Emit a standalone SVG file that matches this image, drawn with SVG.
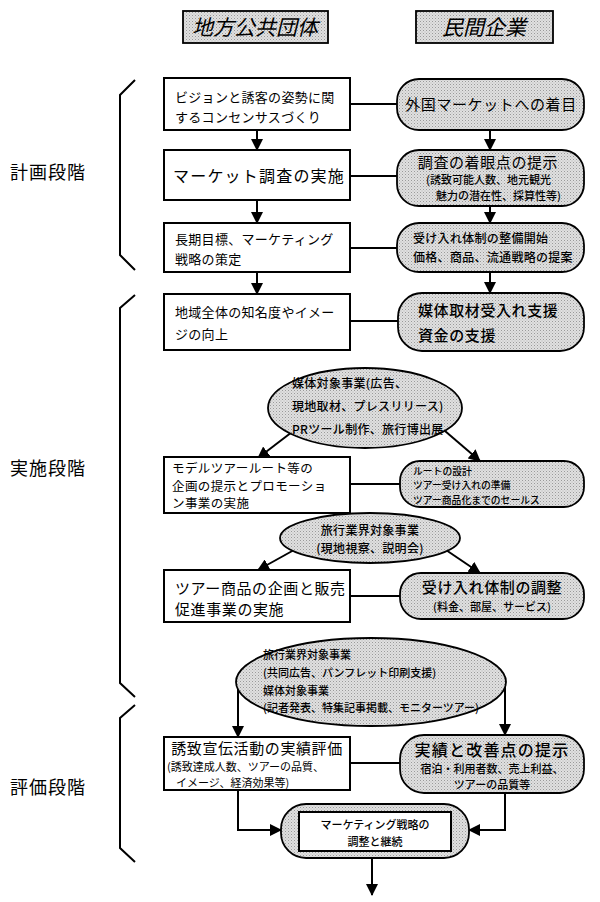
<svg xmlns="http://www.w3.org/2000/svg" width="600" height="902" viewBox="0 0 600 902">
<defs>
<pattern id="dots" width="3" height="3" patternUnits="userSpaceOnUse">
<rect width="3" height="3" fill="#e0e0e0"/>
<rect x="0" y="0" width="1" height="1" fill="#9a9a9a"/>
<rect x="1.5" y="1.5" width="1" height="1" fill="#b4b4b4"/>
</pattern>
<marker id="ah" markerUnits="userSpaceOnUse" markerWidth="12" markerHeight="12" refX="11" refY="6" orient="auto">
<path d="M0,0 L12,6 L0,12 z" fill="#000"/>
</marker>
</defs>
<style>
text{font-family:"Noto Sans CJK JP","Noto Sans CJK SC",sans-serif;fill:#000}
.box{fill:#fff;stroke:#000;stroke-width:2}
.pill{fill:url(#dots);stroke:#000;stroke-width:1.8}
.hdr{fill:url(#dots);stroke:#000;stroke-width:1.8}
.ht{font-size:21px;font-style:italic;text-anchor:middle}
.br{fill:none;stroke:#000;stroke-width:2}
.lab{font-size:18px;letter-spacing:1px}
.c{text-anchor:middle}
.t13{font-size:13px;letter-spacing:0.3px}
.t125{font-size:12.5px;letter-spacing:0.4px}
.t15{font-size:15px;letter-spacing:0.6px}
.t16{font-size:16px;letter-spacing:1.2px}
.t12{font-size:12px;letter-spacing:0.3px}
.t11{font-size:11px}
.t10{font-size:9.8px}
.b{font-weight:500}
.cn path{fill:none;stroke:#000;stroke-width:2}
</style>

<g id="header-public">
<rect class="hdr" x="183" y="11" width="145" height="32"/>
<text class="ht" x="255" y="35">地方公共団体</text>
</g>
<g id="header-private">
<rect class="hdr" x="416" y="11" width="137" height="32"/>
<text class="ht" x="484" y="35">民間企業</text>
</g>

<g id="phase-plan">
<path class="br" d="M135,80 L120,95 V255 L135,270"/>
<text class="lab" x="10" y="179">計画段階</text>
</g>
<g id="phase-impl">
<path class="br" d="M135,295 L120,308 V683 L135,697"/>
<text class="lab" x="10" y="475">実施段階</text>
</g>
<g id="phase-eval">
<path class="br" d="M135,705 L120,718 V848 L135,862"/>
<text class="lab" x="10" y="794">評価段階</text>
</g>

<g class="cn" id="connectors">
<path d="M350,104 H397"/>
<path d="M350,176 H397"/>
<path d="M350,248 H397"/>
<path d="M350,321 H398"/>
<path d="M350,484 H400"/>
<path d="M350,596 H400"/>
<path d="M350,763 H400"/>
<path d="M257,130 V150" marker-end="url(#ah)"/>
<path d="M257,200 V223" marker-end="url(#ah)"/>
<path d="M257,272 V294" marker-end="url(#ah)"/>
<path d="M490,130 V150" marker-end="url(#ah)"/>
<path d="M490,206 V223" marker-end="url(#ah)"/>
<path d="M490,272 V293" marker-end="url(#ah)"/>
<path d="M292,432 L258,458" marker-end="url(#ah)"/>
<path d="M445,431 L480,461" marker-end="url(#ah)"/>
<path d="M294,550 L258,570" marker-end="url(#ah)"/>
<path d="M446,550 L480,573" marker-end="url(#ah)"/>
<path d="M238,682 V737" marker-end="url(#ah)"/>
<path d="M505,682 V735" marker-end="url(#ah)"/>
<path d="M238,790 V830 H281" marker-end="url(#ah)"/>
<path d="M505,793 V830 H469" marker-end="url(#ah)"/>
<path d="M372,858 V895" marker-end="url(#ah)"/>
</g>

<g id="L1">
<rect class="box" x="164" y="78" width="186" height="52"/>
<text class="t13" x="175" y="102">ビジョンと誘客の姿勢に関</text>
<text class="t13" x="175" y="122">するコンセンサスづくり</text>
</g>
<g id="L2">
<rect class="box" x="164" y="150" width="186" height="50"/>
<text class="t16" x="173" y="182">マーケット調査の実施</text>
</g>
<g id="L3">
<rect class="box" x="164" y="223" width="186" height="49"/>
<text class="t13" x="175" y="244">長期目標、マーケティング</text>
<text class="t13" x="175" y="264">戦略の策定</text>
</g>
<g id="R1">
<rect class="pill" x="397" y="79" width="187" height="51" rx="22"/>
<text class="t15 c" x="491" y="110">外国マーケットへの着目</text>
</g>
<g id="R2">
<rect class="pill" x="397" y="150" width="187" height="56" rx="22"/>
<text class="t15 c" x="488" y="168">調査の着眼点の提示</text>
<text class="t11 b" x="426" y="184">(誘致可能人数、地元観光</text>
<text class="t11 b" x="436" y="200">魅力の潜在性、採算性等)</text>
</g>
<g id="R3">
<rect class="pill" x="397" y="223" width="187" height="49" rx="22"/>
<text class="t12 b" x="413" y="243">受け入れ体制の整備開始</text>
<text class="t12 b" x="413" y="262">価格、商品、流通戦略の提案</text>
</g>

<g id="L4">
<rect class="box" x="164" y="294" width="186" height="56"/>
<text class="t13" x="175" y="317">地域全体の知名度やイメー</text>
<text class="t13" x="175" y="339">ジの向上</text>
</g>
<g id="R4">
<rect class="pill" x="398" y="293" width="186" height="58" rx="24"/>
<text class="t15 b" x="418" y="316">媒体取材受入れ支援</text>
<text class="t15 b" x="418" y="341">資金の支援</text>
</g>

<g id="E1">
<ellipse class="pill" cx="365" cy="408" rx="97" ry="40"/>
<text class="t12 b" x="292" y="388">媒体対象事業(広告、</text>
<text class="t12 b" x="292" y="411">現地取材、プレスリリース)</text>
<text class="t12 b" x="292" y="434">PRツール制作、旅行博出展</text>
</g>

<g id="L5">
<rect class="box" x="164" y="457" width="186" height="56"/>
<text class="t125" x="172" y="473">モデルツアールート等の</text>
<text class="t125" x="172" y="490.5">企画の提示とプロモーショ</text>
<text class="t125" x="172" y="508">ン事業の実施</text>
</g>
<g id="R5">
<rect class="pill" x="400" y="461" width="184" height="46" rx="20"/>
<text class="t10 b" x="413" y="474.5">ルートの設計</text>
<text class="t10 b" x="413" y="489">ツアー受け入れの準備</text>
<text class="t10 b" x="413" y="503.5">ツアー商品化までのセールス</text>
</g>

<g id="E2">
<ellipse class="pill" cx="370" cy="538" rx="90" ry="25"/>
<text class="t12 b c" x="370" y="535">旅行業界対象事業</text>
<text class="t12 b c" x="370" y="553">(現地視察、説明会)</text>
</g>

<g id="L6">
<rect class="box" x="164" y="570" width="186" height="52"/>
<text class="t15" x="175" y="594">ツアー商品の企画と販売</text>
<text class="t15" x="175" y="615">促進事業の実施</text>
</g>
<g id="R6">
<rect class="pill" x="400" y="573" width="184" height="46" rx="21"/>
<text class="t15 b c" x="492" y="593">受け入れ体制の調整</text>
<text class="t11 b c" x="492" y="611">(料金、部屋、サービス)</text>
</g>

<g id="E3">
<ellipse class="pill" cx="371" cy="682" rx="135" ry="44"/>
<text class="t11 b" x="263" y="659">旅行業界対象事業</text>
<text class="t11 b" x="263" y="677">(共同広告、パンフレット印刷支援)</text>
<text class="t11 b" x="263" y="695">媒体対象事業</text>
<text class="t11 b" x="263" y="712">(記者発表、特集記事掲載、モニターツアー)</text>
</g>

<g id="L7">
<rect class="box" x="164" y="737" width="186" height="53"/>
<text class="t15 c" x="257" y="754">誘致宣伝活動の実績評価</text>
<text class="t11" x="167" y="771">(誘致達成人数、ツアーの品質、</text>
<text class="t11" x="176" y="787">イメージ、経済効果等)</text>
</g>
<g id="R7">
<rect class="pill" x="400" y="735" width="184" height="58" rx="24"/>
<text class="t16 b c" x="492" y="756">実績と改善点の提示</text>
<text class="t11 b c" x="492" y="773">宿泊・利用者数、売上利益、</text>
<text class="t11 b c" x="492" y="789">ツアーの品質等</text>
</g>

<g id="F">
<rect class="pill" x="281" y="804" width="188" height="54" rx="25"/>
<rect class="box" x="299" y="812" width="152" height="39"/>
<text class="t11 b c" x="375" y="829">マーケティング戦略の</text>
<text class="t11 b c" x="375" y="846">調整と継続</text>
</g>
</svg>
